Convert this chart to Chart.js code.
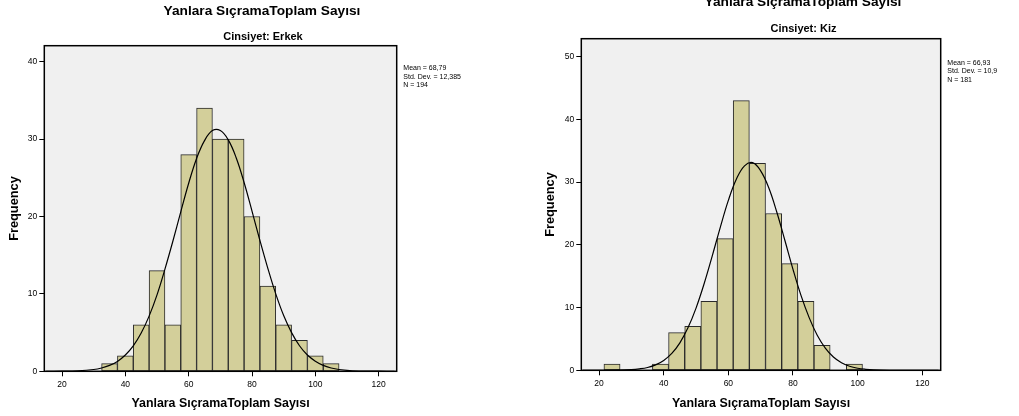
<!DOCTYPE html>
<html>
<head>
<meta charset="utf-8">
<script src="https://cdn.jsdelivr.net/npm/chart.js@4.4.0/dist/chart.umd.min.js"></script>
<style>
    body {
        margin: 0;
        width: 1019px;
        height: 416px;
        position: relative;
        overflow: hidden;
        background: #fff;
        font-family: "Liberation Sans", Arial, sans-serif;
        color: #000;
    }
    canvas { position: absolute; top: 0; }
    .title {
        position: absolute;
        font-weight: bold;
        white-space: nowrap;
        line-height: 1;
        transform: translateX(-50%);
    }
    .stats {
        position: absolute;
        font-size: 7px;
        line-height: 8.5px;
        white-space: nowrap;
    }
</style>
</head>
<body>
<canvas id="erkekChart" width="510" height="416" style="left:0"></canvas>
<canvas id="kizChart" width="500" height="416" style="left:519px"></canvas>

<div class="title" style="left:262px; top:4.4px; font-size:13.7px">Yanlara SıçramaToplam Sayısı</div>
<div class="title" style="left:263px; top:30.7px; font-size:11px">Cinsiyet: Erkek</div>
<div class="stats" style="left:403.3px; top:64px">Mean = 68,79<br>Std. Dev. = 12,385<br>N = 194</div>

<div class="title" style="left:803px; top:-4.6px; font-size:13.7px">Yanlara SıçramaToplam Sayısı</div>
<div class="title" style="left:803.5px; top:23px; font-size:11px">Cinsiyet: Kiz</div>
<div class="stats" style="left:947.3px; top:58.6px">Mean = 66,93<br>Std. Dev. = 10,9<br>N = 181</div>

<script>
const FONT = '"Liberation Sans", Arial, sans-serif';

// bin centres (width 5) and frequencies
const erkekBins = [35, 40, 45, 50, 55, 60, 65, 70, 75, 80, 85, 90, 95, 100, 105];
const erkekCounts = [1, 2, 6, 13, 6, 28, 34, 30, 30, 20, 11, 6, 4, 2, 1];

const kizBins = [24, 39, 44, 49, 54, 59, 64, 69, 74, 79, 84, 89, 99];
const kizCounts = [1, 1, 6, 7, 11, 21, 43, 33, 25, 17, 11, 4, 1];

// normal curves
const curveX = [15, 20, 25, 30, 32.5, 35, 37.5, 40, 42.5, 45, 47.5, 50, 52.5, 55, 57.5, 60, 62.5, 65, 67.5,
    70, 72.5, 75, 77.5, 80, 82.5, 85, 87.5, 90, 92.5, 95, 97.5, 100, 102.5, 105, 110, 115, 120, 125];
const erkekCurve = [0, 0.01, 0.06, 0.23, 0.43, 0.76, 1.28, 2.1, 3.28, 4.94, 7.13, 9.88, 13.2, 16.8, 20.6, 24.3, 27.5, 29.8, 31.1,
    31.1, 29.9, 27.6, 24.4, 20.7, 16.9, 13.3, 10.0, 7.2, 5.0, 3.3, 2.1, 1.31, 0.77, 0.43, 0.12, 0.03, 0.01, 0];
const kizCurve = [0, 0, 0.02, 0.11, 0.23, 0.45, 0.87, 1.57, 2.69, 4.38, 6.77, 9.92, 13.8, 18.2, 22.8, 27.1, 30.5, 32.6, 33.1,
    31.8, 29.1, 25.2, 20.7, 16.1, 11.9, 8.4, 5.58, 3.53, 2.11, 1.2, 0.65, 0.33, 0.16, 0.07, 0.01, 0, 0, 0];

const xTicks = [20, 40, 60, 80, 100, 120];
const erkekYTicks = [0, 10, 20, 30, 40];
const kizYTicks = [0, 10, 20, 30, 40, 50];

const framePlugin = {
    id: "frame",
    beforeDatasetsDraw(chart) {
        const { ctx, chartArea: a } = chart;
        ctx.save();
        ctx.fillStyle = "#f0f0f0";
        ctx.fillRect(a.left, a.top, a.right - a.left, a.bottom - a.top);
        ctx.restore();
    },
    afterDraw(chart) {
        const { ctx, chartArea: a } = chart;
        ctx.save();
        ctx.strokeStyle = "#000";
        ctx.lineWidth = 1.5;
        ctx.strokeRect(a.left, a.top, a.right - a.left, a.bottom - a.top);
        ctx.restore();
    }
};

function buildHistogram(id, bins, counts, curve, yTicks, yMax, box) {
    const ctx = document.getElementById(id);
    return new Chart(ctx, {
        type: "bar",
        data: {
            datasets: [{
                type: "line",
                data: curveX.map((x, i) => ({ x, y: curve[i] })),
                borderColor: "#000",
                borderWidth: 1.2,
                pointRadius: 0,
                tension: 0.4,
                fill: false,
                order: 0
            }, {
                type: "bar",
                data: bins.map((x, i) => ({ x, y: counts[i] })),
                backgroundColor: "#d3cf9a",
                borderColor: "#2a2a2a",
                borderWidth: 1,
                borderSkipped: false,
                barPercentage: 1,
                categoryPercentage: 1,
                order: 1
            }]
        },
        options: {
            responsive: false,
            animation: false,
            events: [],
            layout: { padding: { left: 0, top: box.top, right: box.right, bottom: 0 } },
            plugins: {
                legend: { display: false },
                tooltip: { enabled: false }
            },
            scales: {
                x: {
                    type: "linear",
                    min: box.xMin,
                    max: box.xMax,
                    offset: false,
                    afterBuildTicks: scale => { scale.ticks = xTicks.map(v => ({ value: v })); },
                    afterFit: scale => { scale.height = box.xHeight; },
                    grid: { offset: false, drawOnChartArea: false, drawTicks: true, tickLength: 5, color: "#000", lineWidth: 1 },
                    border: { display: false },
                    ticks: { font: { size: 8.5, family: FONT }, color: "#000", padding: 3, maxRotation: 0, autoSkip: false },
                    title: {
                        display: true,
                        text: "Yanlara SıçramaToplam Sayısı",
                        font: { size: 12.4, weight: "bold", family: FONT },
                        color: "#000",
                        padding: { top: 0, bottom: 5.3 }
                    }
                },
                y: {
                    type: "linear",
                    min: 0,
                    max: yMax,
                    afterBuildTicks: scale => { scale.ticks = yTicks.map(v => ({ value: v })); },
                    afterFit: scale => { scale.width = box.yWidth; },
                    grid: { drawOnChartArea: false, drawTicks: true, tickLength: 5, color: "#000", lineWidth: 1 },
                    border: { display: false },
                    ticks: { font: { size: 8.5, family: FONT }, color: "#000", padding: 2 },
                    title: {
                        display: true,
                        text: "Frequency",
                        font: { size: 12.8, weight: "bold", family: FONT },
                        color: "#000",
                        padding: { top: box.yTitlePad, bottom: 0 }
                    }
                }
            }
        },
        plugins: [framePlugin]
    });
}

buildHistogram("erkekChart", erkekBins, erkekCounts, erkekCurve, erkekYTicks, 42.07,
    { top: 45.7, right: 113.3, xHeight: 44.7, yWidth: 44.3, yTitlePad: 6.5, xMin: 14.4, xMax: 125.7 });
buildHistogram("kizChart", kizBins, kizCounts, kizCurve, kizYTicks, 52.87,
    { top: 38.7, right: 78.3, xHeight: 45.7, yWidth: 62.3, yTitlePad: 24, xMin: 14.5, xMax: 125.7 });
</script>
</body>
</html>
